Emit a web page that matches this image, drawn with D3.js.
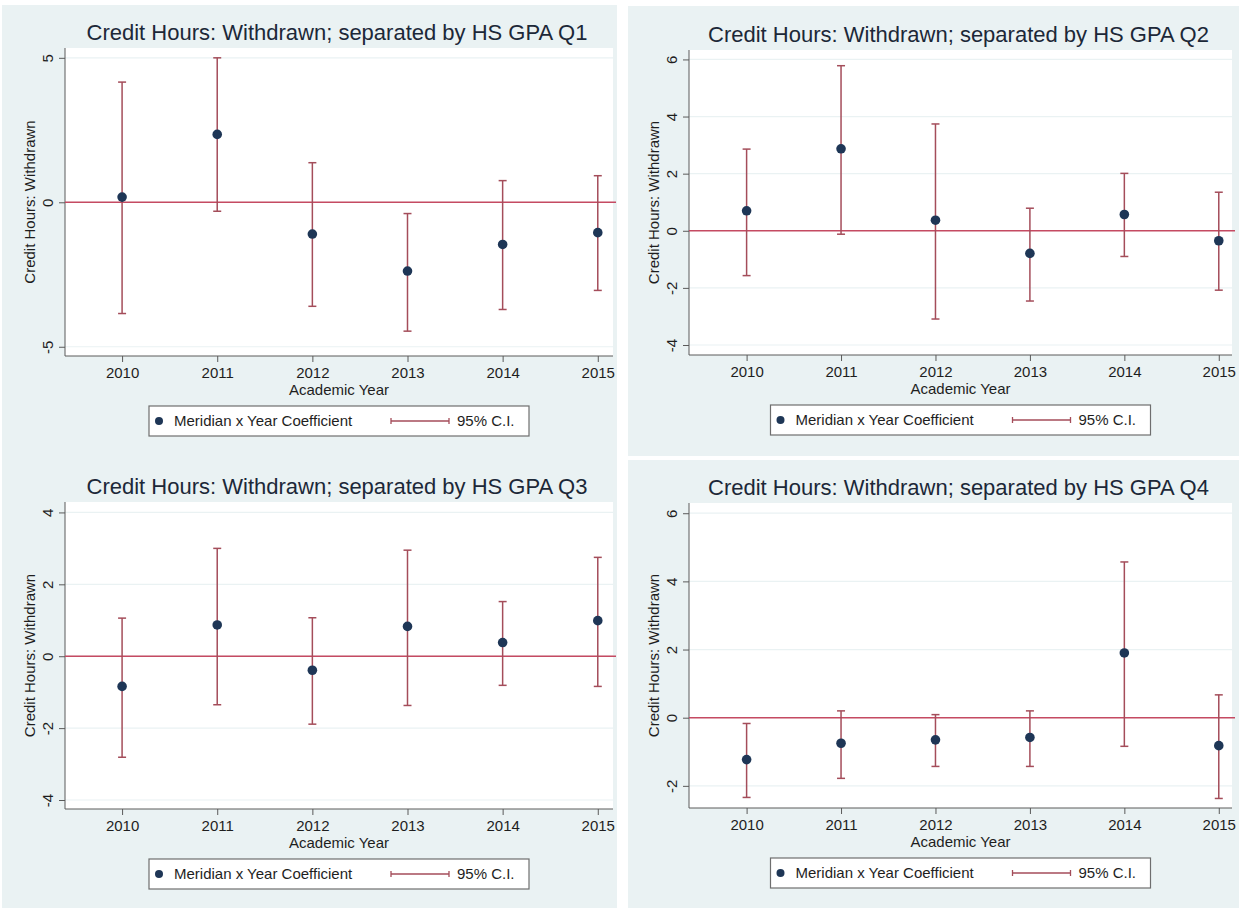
<!DOCTYPE html>
<html>
<head>
<meta charset="utf-8">
<script src="https://cdn.jsdelivr.net/npm/d3@7"></script>
<style>
  html, body { margin: 0; padding: 0; background: #ffffff; }
  svg { display: block; }
  text { font-family: "Liberation Sans", Arial, Helvetica, sans-serif; }
</style>
</head>
<body>
<svg id="chart" width="1239" height="909"></svg>
<script>
// ---------------- DATA ----------------
const years = [2010, 2011, 2012, 2013, 2014, 2015];

const titles = [
  "Credit Hours: Withdrawn; separated by HS GPA Q1",
  "Credit Hours: Withdrawn; separated by HS GPA Q2",
  "Credit Hours: Withdrawn; separated by HS GPA Q3",
  "Credit Hours: Withdrawn; separated by HS GPA Q4"
];
const xAxisTitle = "Academic Year";
const yAxisTitle = "Credit Hours: Withdrawn";
const legendPointLabel = "Meridian x Year Coefficient";
const legendCILabel = "95% C.I.";

// Q1
const q1Coef = [0.18, 2.35, -1.10, -2.38, -1.46, -1.05];
const q1Lo   = [-3.85, -0.31, -3.60, -4.46, -3.71, -3.05];
const q1Hi   = [4.16, 5.00, 1.37, -0.39, 0.75, 0.92];
const q1Ticks = [-5, 0, 5];

// Q2
const q2Coef = [0.70, 2.87, 0.37, -0.79, 0.57, -0.35];
const q2Lo   = [-1.57, -0.12, -3.09, -2.46, -0.90, -2.08];
const q2Hi   = [2.86, 5.78, 3.74, 0.79, 2.01, 1.35];
const q2Ticks = [-4, -2, 0, 2, 4, 6];

// Q3
const q3Coef = [-0.84, 0.87, -0.39, 0.83, 0.38, 0.99];
const q3Lo   = [-2.81, -1.35, -1.89, -1.37, -0.81, -0.84];
const q3Hi   = [1.06, 3.00, 1.07, 2.95, 1.52, 2.75];
const q3Ticks = [-4, -2, 0, 2, 4];

// Q4
const q4Coef = [-1.23, -0.75, -0.65, -0.58, 1.90, -0.82];
const q4Lo   = [-2.34, -1.78, -1.43, -1.43, -0.84, -2.37];
const q4Hi   = [-0.17, 0.20, 0.09, 0.20, 4.57, 0.67];
const q4Ticks = [-2, 0, 2, 4, 6];

// ---------------- LAYOUT ----------------
const COL_BG = "#eaf2f3";
const COL_GRID = "#eaf2f3";
const COL_AXIS = "#5a5a5a";
const COL_TITLE = "#1c2838";
const COL_TEXT = "#1e1e1e";
const COL_DOT = "#1e3656";
const COL_CI = "#a44d5a";
const COL_ZERO = "#c54a62";
const plainNum = d => String(d);

const svg = d3.select("#chart");

// background panels
svg.append("rect").attr("x", 2).attr("y", 5).attr("width", 615).attr("height", 903).attr("fill", COL_BG);
svg.append("rect").attr("x", 628).attr("y", 6).attr("width", 611).attr("height", 450).attr("fill", COL_BG);
svg.append("rect").attr("x", 628).attr("y", 460).attr("width", 611).attr("height", 448).attr("fill", COL_BG);

const panels = [
  { title: titles[0], coef: q1Coef, lo: q1Lo, hi: q1Hi, ticks: q1Ticks,
    left: 65, right: 613, top: 48, bottom: 356, yDom: [-5.32, 5.34], xDom: [2009.40, 2015.16] },
  { title: titles[1], coef: q2Coef, lo: q2Lo, hi: q2Hi, ticks: q2Ticks,
    left: 689, right: 1232, top: 50, bottom: 355, yDom: [-4.35, 6.33], xDom: [2009.39, 2015.14] },
  { title: titles[2], coef: q3Coef, lo: q3Lo, hi: q3Hi, ticks: q3Ticks,
    left: 65, right: 613, top: 502, bottom: 809, yDom: [-4.25, 4.29], xDom: [2009.40, 2015.16] },
  { title: titles[3], coef: q4Coef, lo: q4Lo, hi: q4Hi, ticks: q4Ticks,
    left: 689, right: 1232, top: 503, bottom: 808, yDom: [-2.65, 6.30], xDom: [2009.39, 2015.14] }
];

panels.forEach(p => {
  const x = d3.scaleLinear().domain(p.xDom).range([p.left, p.right]);
  const y = d3.scaleLinear().domain(p.yDom).range([p.bottom, p.top]);
  const g = svg.append("g");
  const cx = (p.left + p.right) / 2;
  const cy = (p.top + p.bottom) / 2;

  // plot region
  g.append("rect").attr("x", p.left).attr("y", p.top)
    .attr("width", p.right - p.left).attr("height", p.bottom - p.top)
    .attr("fill", "#ffffff");

  // gridlines
  g.selectAll(".grid").data(p.ticks).enter().append("line")
    .attr("x1", p.left).attr("x2", p.right)
    .attr("y1", d => y(d)).attr("y2", d => y(d))
    .attr("stroke", COL_GRID).attr("stroke-width", 1.2);

  // title
  g.append("text").attr("x", cx - 2).attr("y", p.top - 8)
    .attr("text-anchor", "middle").attr("font-size", 22)
    .attr("fill", COL_TITLE).text(p.title);

  // y axis
  const yAxis = d3.axisLeft(y).tickValues(p.ticks).tickSize(6).tickPadding(4).tickFormat(plainNum);
  const ya = g.append("g").attr("transform", `translate(${p.left},0)`).call(yAxis);
  ya.select(".domain").attr("stroke", COL_AXIS).attr("d", `M0,${p.top}V${p.bottom}`);
  ya.selectAll(".tick line").attr("stroke", COL_AXIS);
  ya.selectAll(".tick text")
    .attr("x", null).attr("dy", null)
    .attr("text-anchor", "middle")
    .attr("transform", "translate(-17,0) rotate(-90)")
    .attr("dy", "0.36em")
    .attr("font-size", 15).attr("fill", COL_TEXT)
    .attr("font-family", "Liberation Sans, Arial, sans-serif");

  // x axis
  const xAxis = d3.axisBottom(x).tickValues(years).tickSize(6).tickPadding(5).tickFormat(plainNum);
  const xa = g.append("g").attr("transform", `translate(0,${p.bottom})`).call(xAxis);
  xa.select(".domain").attr("stroke", COL_AXIS).attr("d", `M${p.left},0H${p.right}`);
  xa.selectAll(".tick line").attr("stroke", COL_AXIS);
  xa.selectAll(".tick text").attr("font-size", 15).attr("fill", COL_TEXT)
    .attr("font-family", "Liberation Sans, Arial, sans-serif");

  // axis titles
  g.append("text").attr("x", cx).attr("y", p.bottom + 39)
    .attr("text-anchor", "middle").attr("font-size", 15).attr("fill", COL_TEXT)
    .text(xAxisTitle);
  g.append("text")
    .attr("transform", `translate(${p.left - 35},${cy}) rotate(-90)`)
    .attr("text-anchor", "middle").attr("dy", "0.36em")
    .attr("font-size", 15).attr("fill", COL_TEXT)
    .text(yAxisTitle);

  // zero reference line
  g.append("line").attr("x1", p.left).attr("x2", p.right + 3)
    .attr("y1", y(0)).attr("y2", y(0))
    .attr("stroke", COL_ZERO).attr("stroke-width", 1.6);

  // CI bars
  const rows = years.map((yr, i) => ({ yr, c: p.coef[i], lo: p.lo[i], hi: p.hi[i] }));
  const ci = g.selectAll(".ci").data(rows).enter().append("g");
  ci.append("line").attr("x1", d => x(d.yr)).attr("x2", d => x(d.yr))
    .attr("y1", d => y(d.lo)).attr("y2", d => y(d.hi))
    .attr("stroke", COL_CI).attr("stroke-width", 1.5);
  ci.append("line").attr("x1", d => x(d.yr) - 4).attr("x2", d => x(d.yr) + 4)
    .attr("y1", d => y(d.lo)).attr("y2", d => y(d.lo))
    .attr("stroke", COL_CI).attr("stroke-width", 1.5);
  ci.append("line").attr("x1", d => x(d.yr) - 4).attr("x2", d => x(d.yr) + 4)
    .attr("y1", d => y(d.hi)).attr("y2", d => y(d.hi))
    .attr("stroke", COL_CI).attr("stroke-width", 1.5);

  // points
  g.selectAll(".pt").data(rows).enter().append("circle")
    .attr("cx", d => x(d.yr)).attr("cy", d => y(d.c)).attr("r", 4.8)
    .attr("fill", COL_DOT);

  // legend
  const lw = 380, lh = 30;
  const lx = cx - lw / 2, ly = p.bottom + 50;
  const lg = g.append("g").attr("transform", `translate(${lx},${ly})`);
  lg.append("rect").attr("width", lw).attr("height", lh)
    .attr("fill", "#ffffff").attr("stroke", "#6e6e6e").attr("stroke-width", 1.2);
  lg.append("circle").attr("cx", 10).attr("cy", lh / 2).attr("r", 4).attr("fill", COL_DOT);
  lg.append("text").attr("x", 25).attr("y", lh / 2).attr("dy", "0.36em")
    .attr("font-size", 15).attr("fill", COL_TEXT).text(legendPointLabel);
  lg.append("line").attr("x1", 242).attr("x2", 300).attr("y1", lh / 2).attr("y2", lh / 2)
    .attr("stroke", COL_CI).attr("stroke-width", 1.3);
  lg.append("line").attr("x1", 242).attr("x2", 242).attr("y1", lh / 2 - 3).attr("y2", lh / 2 + 3)
    .attr("stroke", COL_CI).attr("stroke-width", 1.3);
  lg.append("line").attr("x1", 300).attr("x2", 300).attr("y1", lh / 2 - 3).attr("y2", lh / 2 + 3)
    .attr("stroke", COL_CI).attr("stroke-width", 1.3);
  lg.append("text").attr("x", 308).attr("y", lh / 2).attr("dy", "0.36em")
    .attr("font-size", 15).attr("fill", COL_TEXT).text(legendCILabel);
});
</script>
</body>
</html>
